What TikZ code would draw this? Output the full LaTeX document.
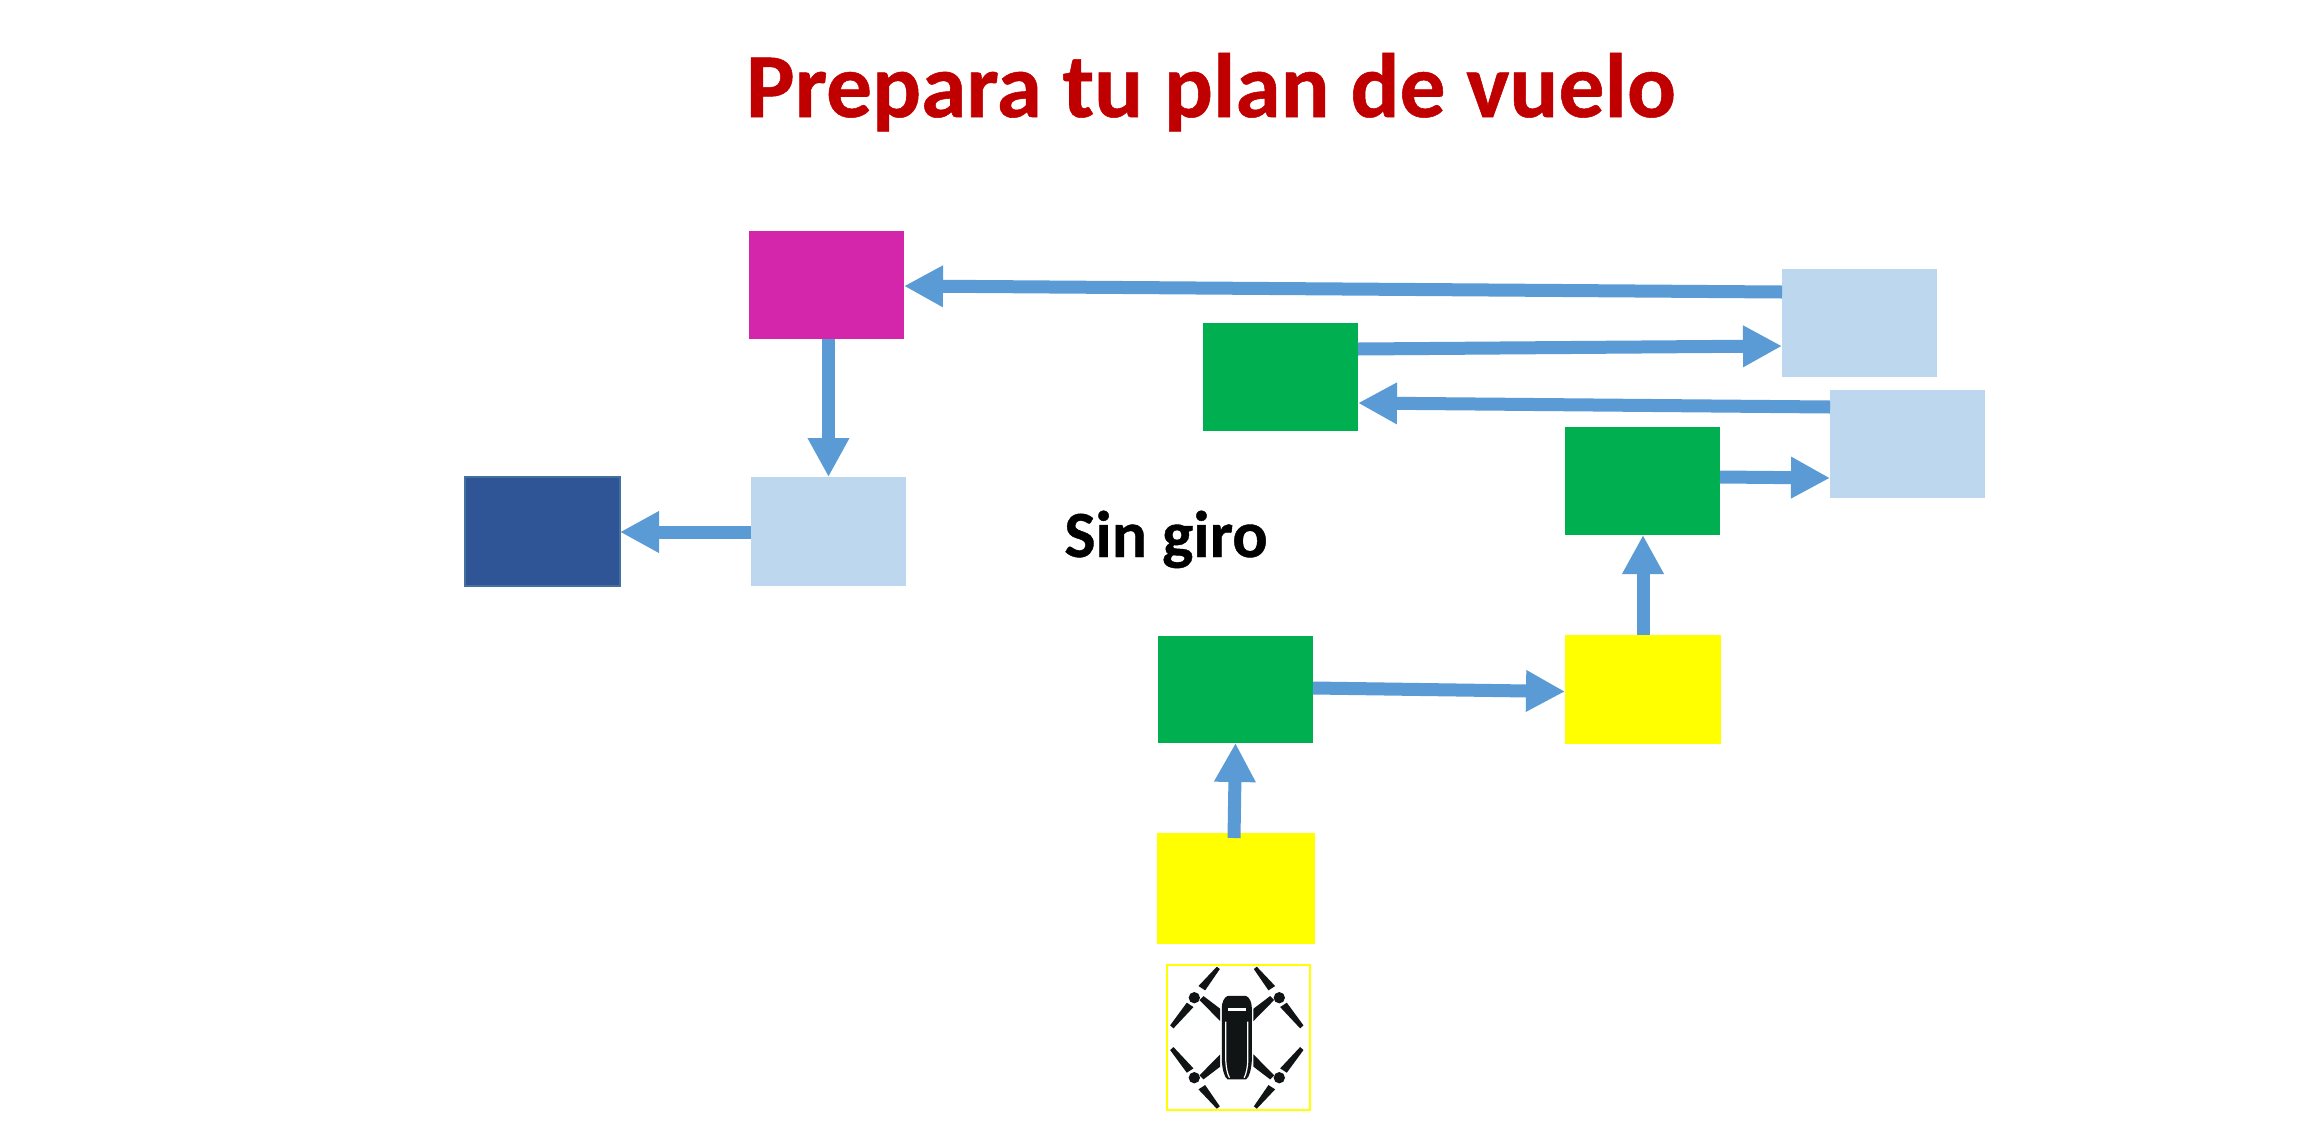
\documentclass[tikz,border=0pt]{standalone}
\usepackage{fontspec}
\setmainfont[BoldFeatures={FakeBold=0.6}]{Carlito}
\usetikzlibrary{arrows.meta,calc}
\definecolor{flowblue}{HTML}{5B9BD5}
\definecolor{paleblue}{HTML}{BDD7EE}
\definecolor{boxgreen}{HTML}{00B050}
\definecolor{boxyellow}{HTML}{FFFF00}
\definecolor{boxmagenta}{HTML}{D426AA}
\definecolor{boxnavy}{HTML}{2F5597}
\definecolor{navyedge}{HTML}{41719C}
\definecolor{titlered}{HTML}{C00000}
\definecolor{dronedark}{HTML}{111414}
\tikzset{
  x=0.5pt,y=-0.5pt,
  block/.style={draw=none,inner sep=0pt,outer sep=0pt,anchor=north west},
  flow/.style={draw=flowblue,line width=6.5pt,-{Triangle[length=19.5pt,width=19.5pt,fill=flowblue]}},
  dronepart/.style={fill=dronedark,draw=none}
}
\newcommand{\bx}[6]{\node[block,fill=#2,minimum width=#5*0.5pt-#3*0.5pt,minimum height=#6*0.5pt-#4*0.5pt] (#1) at (#3,#4) {};}
\begin{document}
\begin{tikzpicture}
\useasboundingbox (0,0) rectangle (2308,1125);
\fill[white] (0,0) rectangle (2308,1125);
\node[anchor=base,font=\bfseries\fontsize{45.7}{50}\selectfont,text=titlered,inner sep=0pt] (title) at (1211,117) {Prepara tu plan de vuelo};
\node[anchor=base,font=\bfseries\fontsize{33}{38}\selectfont,text=black,inner sep=0pt] (singiro) at (1166,557) {Sin giro};
\bx{magenta}{boxmagenta}{749}{231}{904}{339}
\bx{paleC}{paleblue}{751}{477}{906}{586}
\node[block,fill=boxnavy,draw=navyedge,line width=1pt,minimum width=77.5pt,minimum height=54.5pt] (navy) at (465,477) {};
\bx{paleA}{paleblue}{1782}{269}{1937}{377}
\bx{paleB}{paleblue}{1830}{390}{1985}{498}
\bx{greenA}{boxgreen}{1203}{323}{1358}{431}
\bx{greenB}{boxgreen}{1565}{427}{1720}{535}
\bx{greenC}{boxgreen}{1158}{636}{1313}{743}
\bx{yellowA}{boxyellow}{1565}{635}{1721}{744}
\bx{yellowB}{boxyellow}{1157}{833}{1315}{944}
\node[block,draw=boxyellow,line width=1pt,minimum width=71.5pt,minimum height=72.5pt] (dronebox) at (1167,965) {};
% connectors
\draw[flow] ($(paleA.west)+(0,-31)$) -- ($(magenta.east)+(0,1)$);
\draw[flow] ($(greenA.east)+(0,-28)$) -- ($(paleA.west)+(0,23)$);
\draw[flow] ($(paleB.west)+(0,-37)$) -- ($(greenA.east)+(0,26)$);
\draw[flow] ($(greenB.east)+(0,-4)$) -- ($(paleB.west)+(0,34)$);
\draw[flow] ($(yellowA.north)+(0,0)$) -- ($(yellowA.north |- greenB.south)$);
\draw[flow] ($(greenC.east)+(0,-1.5)$) -- ($(yellowA.west)+(0,2)$);
\draw[flow] ($(yellowB.north)+(-2,5)$) -- ($(greenC.south)+(0,0)$);
\draw[flow] ($(paleC.north |- magenta.south)$) -- (paleC.north);
\draw[flow] ($(paleC.west)+(0,0.5)$) -- ($(navy.east |- paleC.west)+(0,0.5)$);
% drone
\foreach \sx/\sy in {1/1,-1/1,1/-1,-1/-1}{
\begin{scope}[shift={(1236.8,1037.7)},x=0.16667pt,y=-0.16667pt,xscale=\sx,yscale=\sy]
  \fill[dronepart] (-127.5,-120) circle (17);
  \fill[dronepart] (-60,-213) -- (-51,-206) -- (-95,-142) -- (-115,-155) -- cycle;
  \fill[dronepart] (-150,-105) -- (-130,-92) -- (-190,-28) -- (-200,-37) -- cycle;
  \fill[dronepart] (-112,-113) -- (-100,-125) -- (-50,-87) -- (-50,-50) -- cycle;
\end{scope}}
\begin{scope}[shift={(1236.8,1037.7)},x=0.16667pt,y=-0.16667pt]
  \fill[dronepart] (-28,-125) .. controls (-20,-126) and (20,-126) .. (28,-125)
     .. controls (38,-122) and (45,-105) .. (45,-90) -- (45,70)
     .. controls (43,95) and (38,118) .. (28,125) -- (-28,125)
     .. controls (-38,118) and (-43,95) .. (-45,70) -- (-45,-90)
     .. controls (-45,-105) and (-38,-122) .. (-28,-125) -- cycle;
  \fill[white] (-26,-88) rectangle (27,-81);
  \draw[white,line width=0.6pt] (-33,-48) -- (-33,70) .. controls (-32,90) and (-28,110) .. (-22,120);
  \draw[white,line width=0.6pt] (33,-48) -- (33,70) .. controls (32,90) and (28,110) .. (22,120);
\end{scope}
\end{tikzpicture}
\end{document}
